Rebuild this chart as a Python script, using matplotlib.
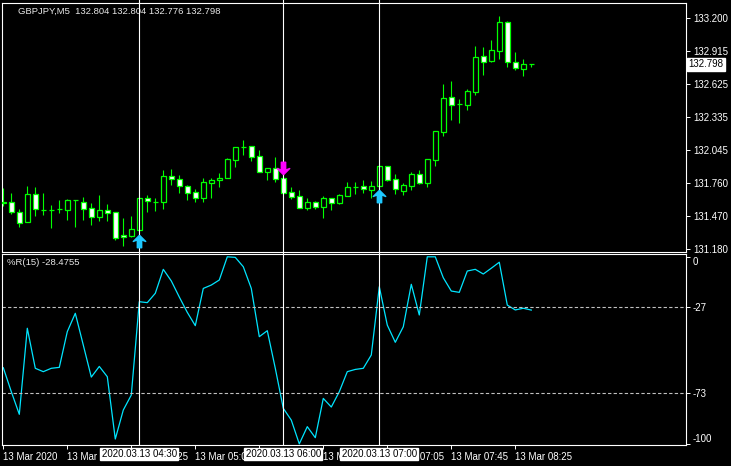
import matplotlib
matplotlib.use("Agg")
import matplotlib.pyplot as plt
from matplotlib.patches import Rectangle
from matplotlib.path import Path
import matplotlib.transforms as mtransforms

plt.rcParams['font.family'] = ['Liberation Sans', 'DejaVu Sans']

# GBPJPY M5 bars, 13 Mar 2020 03:05 .. 08:35
opens = [131.581, 131.594, 131.506, 131.421, 131.664, 131.526, 131.524, 131.530, 131.526, 131.609,
         131.591, 131.539, 131.465, 131.521, 131.504, 131.302, 131.299, 131.351, 131.631, 131.596,
         131.596, 131.824, 131.795, 131.734, 131.681, 131.631, 131.762, 131.783, 131.801, 131.964,
         132.077, 132.081, 131.996, 131.859, 131.891, 131.804, 131.678, 131.646, 131.544, 131.591,
         131.553, 131.626, 131.585, 131.649, 131.727, 131.731, 131.701, 131.736, 131.906, 131.792,
         131.692, 131.736, 131.836, 131.762, 131.964, 132.208, 132.509, 132.448, 132.445, 132.558,
         132.868, 132.829, 132.917, 133.165, 132.815, 132.759, 132.804]
highs = [131.713, 131.672, 131.532, 131.734, 131.725, 131.672, 131.567, 131.611, 131.617, 131.609,
         131.635, 131.588, 131.655, 131.576, 131.504, 131.454, 131.471, 131.628, 131.655, 131.626,
         131.873, 131.882, 131.830, 131.742, 131.707, 131.801, 131.801, 131.845, 131.976, 132.077,
         132.136, 132.081, 132.048, 131.888, 131.987, 131.804, 131.725, 131.699, 131.629, 131.600,
         131.646, 131.626, 131.664, 131.769, 131.769, 131.783, 131.775, 131.906, 131.906, 131.839,
         131.757, 131.856, 131.871, 131.967, 132.212, 132.626, 132.652, 132.494, 132.582, 132.958,
         132.949, 133.010, 133.220, 133.177, 132.905, 132.844, 132.804]
lows = [131.559, 131.489, 131.378, 131.415, 131.474, 131.480, 131.369, 131.500, 131.436, 131.378,
        131.436, 131.393, 131.430, 131.430, 131.261, 131.211, 131.285, 131.349, 131.509, 131.515,
        131.532, 131.742, 131.675, 131.611, 131.596, 131.596, 131.631, 131.727, 131.801, 131.902,
        132.005, 131.955, 131.859, 131.786, 131.771, 131.675, 131.620, 131.544, 131.526, 131.535,
        131.456, 131.524, 131.576, 131.649, 131.664, 131.675, 131.631, 131.736, 131.780, 131.666,
        131.657, 131.701, 131.754, 131.727, 131.911, 132.173, 132.313, 132.287, 132.401, 132.529,
        132.704, 132.821, 132.844, 132.777, 132.748, 132.698, 132.776]
closes = [131.589, 131.504, 131.413, 131.664, 131.530, 131.526, 131.524, 131.530, 131.609, 131.609,
          131.535, 131.465, 131.524, 131.500, 131.281, 131.285, 131.355, 131.626, 131.600, 131.596,
          131.818, 131.792, 131.736, 131.675, 131.631, 131.766, 131.786, 131.806, 131.970, 132.072,
          132.077, 131.985, 131.859, 131.888, 131.797, 131.675, 131.640, 131.544, 131.591, 131.553,
          131.626, 131.588, 131.655, 131.725, 131.727, 131.710, 131.731, 131.906, 131.789, 131.705,
          131.740, 131.839, 131.762, 131.967, 132.212, 132.500, 132.445, 132.448, 132.564, 132.859,
          132.821, 132.920, 133.165, 132.821, 132.768, 132.798, 132.798]

# Williams %R(15)
wpr = [-59.3, -72.1, -84.2, -38.2, -59.6, -61.4, -59.6, -59.1, -40.0, -30.2,
       -47.2, -64.3, -58.6, -64.1, -97.4, -81.9, -73.9, -24.0, -24.5, -19.5,
       -6.7, -12.9, -21.5, -29.7, -36.8, -16.9, -15.1, -12.4, 0.0, -0.3,
       -5.3, -16.9, -42.7, -39.5, -59.6, -81.0, -87.3, -100.0, -90.8, -96.7,
       -75.7, -80.3, -72.1, -61.4, -60.2, -59.6, -52.5, -16.0, -36.5, -45.7,
       -37.4, -14.7, -31.1, 0.0, 0.0, -11.2, -18.3, -19.0, -7.6, -6.7,
       -9.2, -6.1, -2.9, -25.8, -28.4, -27.5, -28.4755]
wpr_levels = [-27, -73]

# signal arrows (bar index, price)
buy_bars = [17, 47]
buy_prices = [131.255, 131.645]
sell_bars = [35]
sell_prices = [131.895]

# vertical lines at signal bars
vline_bars = [17, 35, 47]
vline_labels = ["2020.03.13 04:30", "2020.03.13 06:00", "2020.03.13 07:00"]

price_ticks = [133.200, 132.915, 132.625, 132.335, 132.045, 131.760, 131.470, 131.180]
price_labels = ["133.200", "132.915", "132.625", "132.335", "132.045", "131.760", "131.470", "131.180"]
last_price = 132.798

time_ticks = [0, 8, 16, 24, 32, 40, 48, 56, 64]
time_labels = ["13 Mar 2020", "13 Mar 03:45", "13 Mar 04:25", "13 Mar 05:05", "13 Mar 05:45",
               "13 Mar 06:25", "13 Mar 07:05", "13 Mar 07:45", "13 Mar 08:25"]

GREEN = '#00ff00'
W, H = 731, 466
fig = plt.figure(figsize=(W / 100, H / 100), dpi=100, facecolor='black')
ax = fig.add_axes([2 / W, 1 - 252 / H, 684 / W, 249.3 / H])
ax2 = fig.add_axes([2 / W, 1 - 445 / H, 684 / W, 191 / H])

for a in (ax, ax2):
    a.set_facecolor('black')
    for s in a.spines.values():
        s.set_color('white')
        s.set_linewidth(0.8)
    a.set_xlim(-0.1625, 85.34)
    a.yaxis.tick_right()
    a.tick_params(axis='y', colors='white', labelcolor='white', labelsize=7, length=3, width=0.7, pad=2)

# candles
bw = 0.6
for i in range(len(opens)):
    o, h, l, c = opens[i], highs[i], lows[i], closes[i]
    ax.vlines(i, l, h, color=GREEN, lw=0.8, zorder=2)
    if abs(o - c) < 0.001:
        ax.hlines(o, i - bw / 2, i + bw / 2, color=GREEN, lw=0.9, zorder=3)
    else:
        face = 'black' if c > o else 'white'
        ax.add_patch(Rectangle((i - bw / 2, min(o, c)), bw, abs(c - o), facecolor=face,
                               edgecolor=GREEN, lw=0.9, zorder=3))

ax.set_ylim(131.156, 133.3365)
ax.set_yticks(price_ticks)
ax.set_yticklabels(price_labels)
ax.set_xticks([])

# arrows
up = Path([(0, 1), (1, 0), (0.35, 0.25), (0.35, -1), (-0.35, -1), (-0.35, 0.25), (-1, 0), (0, 1)])
down = Path([(x, -y) for x, y in up.vertices])
ax.plot(buy_bars, buy_prices, ls='none', marker=up, ms=9, color='#1ec8ff', zorder=5)
ax.plot(sell_bars, sell_prices, ls='none', marker=down, ms=9, color='#ff00ff', zorder=5)

ax.text(0.0234, 0.967, "GBPJPY,M5  132.804 132.804 132.776 132.798", transform=ax.transAxes,
        color='#e8e8e8', fontsize=6.8, va='center', ha='left')

trans = mtransforms.blended_transform_factory(ax.transAxes, ax.transData)
ax.text(1.004, last_price, "132.798", transform=trans, color='black', fontsize=7, va='center',
        ha='left', bbox=dict(facecolor='white', edgecolor='white', pad=1.2))

# %R panel
ax2.plot(range(len(wpr)), wpr, color='#00e5ff', lw=0.9)
for lev in wpr_levels:
    ax2.axhline(lev, color='#c0c0c0', lw=0.8, dashes=(3, 2))
ax2.set_ylim(-100.6, 1.5)
ax2.set_yticks([0, -27, -73, -100])
ax2.set_yticklabels(["0", "-27", "-73", "-100"])
ylabs = ax2.get_yticklabels()
ylabs[0].set_va('top')
ylabs[-1].set_va('bottom')
ax2.text(0.0073, 0.953, "%R(15) -28.4755", transform=ax2.transAxes, color='#e8e8e8',
         fontsize=6.8, va='center', ha='left')

ax2.set_xticks(time_ticks)
ax2.set_xticklabels(time_labels)
ax2.tick_params(axis='x', colors='white', labelcolor='white', labelsize=7, length=3, width=0.7, pad=2)
for t in ax2.get_xticklabels():
    t.set_ha('left')

# vertical signal lines
for b, lab in zip(vline_bars, vline_labels):
    ax.axvline(b, ymin=-0.02, ymax=1.02, color='white', lw=0.8, clip_on=False, zorder=4)
    ax2.axvline(b, color='white', lw=0.8, zorder=4)
    tr = mtransforms.blended_transform_factory(ax2.transData, ax2.transAxes)
    ax2.text(b, -0.047, lab, transform=tr, color='black', fontsize=7, ha='center', va='center',
             bbox=dict(facecolor='white', edgecolor='white', pad=1.0), zorder=6)

fig.savefig("out.png", dpi=100, facecolor='black')
